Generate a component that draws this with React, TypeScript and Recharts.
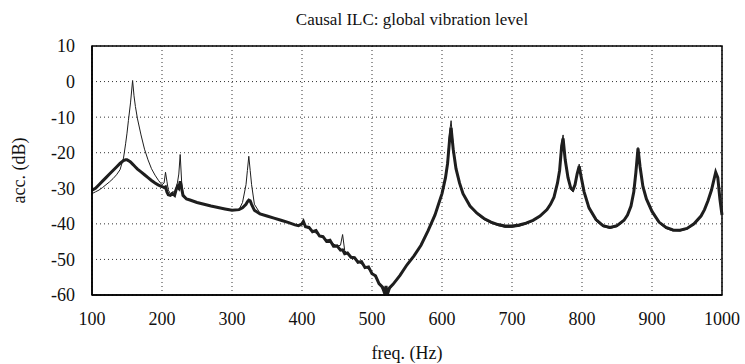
import React from "react";
import { LineChart, Line, XAxis, YAxis, CartesianGrid, ReferenceArea, Label } from "recharts";

const freq = [100,105,110,115,120,125,130,135,140,145,148,150,152,155,158,160,162,165,170,175,180,185,190,195,200,203,205,207,209,212,215,218,220,222,224,226,228,230,235,240,250,260,270,280,290,300,310,315,320,322,324,326,328,332,340,350,360,370,380,390,395,400,402,405,410,415,420,425,430,435,440,445,450,455,458,461,465,470,475,480,485,490,495,500,505,510,515,518,520,522,525,530,540,550,560,570,580,590,595,600,605,608,611,613,616,620,625,630,640,650,660,670,680,690,700,710,720,730,740,750,755,760,765,768,771,773,776,780,784,787,790,793,796,799,803,810,820,830,840,850,860,865,870,874,877,880,883,887,892,900,910,920,930,940,950,960,970,975,980,985,988,991,994,997,1000];

const thickDb = [-30.5,-30,-29,-28,-27,-26,-25,-24,-23,-22.2,-22,-22,-22.2,-22.6,-23.2,-23.6,-24,-24.6,-25.4,-26.2,-27,-27.8,-28.5,-29.1,-29.5,-29.8,-29.6,-31,-31.8,-32,-31.5,-32,-30.5,-29.5,-30,-28,-30,-32,-33,-33.3,-34,-34.5,-35,-35.4,-35.8,-36.2,-36,-35.5,-34.5,-33.8,-33.3,-33.5,-34.5,-36.2,-37.2,-37.8,-38.4,-39,-39.6,-40.3,-40.5,-40,-39.3,-40.8,-41,-42.2,-41.9,-43.4,-43.6,-44.9,-44.6,-46.3,-46.2,-47.4,-47.3,-48.4,-48.2,-49.4,-49.5,-50.8,-50.6,-52.3,-52.1,-54,-54.6,-56.8,-57.8,-59.5,-57.5,-59.8,-58,-57,-54.5,-51.5,-49,-46,-42,-37.5,-34.5,-31.5,-27,-23,-16,-13,-19,-24.5,-28.5,-31.5,-35,-37,-38.5,-39.5,-40.2,-40.6,-40.6,-40.3,-39.8,-39,-37.8,-36,-34.5,-32.5,-28.5,-25,-18,-16,-22,-27,-30,-30.5,-29,-26,-23.8,-27,-31,-35.5,-38.8,-40.5,-41,-40.5,-39,-37.5,-35,-31,-25.5,-18.8,-24,-29.5,-33,-36.5,-39.5,-41,-41.7,-41.8,-41.3,-40,-37.8,-36,-33.5,-30.5,-28,-25.5,-27,-33,-37.5];

const thinDb = [-31.5,-31,-30.5,-29.8,-29,-28.2,-27.3,-26.2,-24.8,-21.5,-17.5,-14.5,-11,-6,0.3,-4,-7,-10.5,-15,-19,-22,-24.5,-26.3,-27.8,-29,-28.5,-25.5,-28,-30.5,-31.5,-31,-31,-30,-28.5,-26,-20.5,-28,-31.5,-33,-33.3,-34,-34.5,-35,-35.4,-35.8,-36.2,-36,-34,-29,-25,-21,-25,-29,-34.5,-37,-37.8,-38.4,-39,-39.6,-40.3,-40.5,-40.2,-39.8,-40.8,-41.4,-42,-42.6,-43.2,-43.8,-44.4,-45,-45.6,-46.3,-46,-43,-47.5,-48.5,-49.2,-49.9,-50.6,-51.3,-52,-52.8,-53.8,-55,-56.5,-58.5,-59.5,-58.5,-59.5,-58.5,-57,-54.5,-51.5,-49,-46,-42,-37.5,-34.5,-31.5,-27,-22,-14,-11,-18,-24.5,-28.5,-31.5,-35.2,-37.3,-38.8,-39.8,-40.5,-41,-41,-40.7,-40.1,-39.2,-38,-36,-34.5,-32.5,-28.5,-24.5,-17,-15,-21.5,-27,-30.3,-31,-29.2,-26,-23.2,-27,-31.2,-35.8,-39.2,-40.8,-41.3,-40.8,-39.2,-37.7,-35.2,-31,-25.5,-18.5,-24,-29.7,-33.3,-36.8,-39.8,-41.3,-42,-42,-41.5,-40.2,-38,-36.2,-33.7,-30.6,-28,-25.4,-27,-33,-37.5];

const xTicks = [100,200,300,400,500,600,700,800,900,1000];
const yTicks = [-60,-50,-40,-30,-20,-10,0,10];

const titleText = "Causal ILC: global vibration level";
const xLabelText = "freq. (Hz)";
const yLabelText = "acc. (dB)";

const data = freq.map((f, i) => ({ f, thin: thinDb[i], thick: thickDb[i] }));

const FONT = '"Liberation Serif", "Times New Roman", serif';

export default function App() {
  return (
    <div style={{ position: "absolute", left: 0, top: 0, width: 745, height: 364, background: "#fff", fontFamily: FONT }}>
      <div style={{ position: "absolute", left: 92, width: 640, top: 10, textAlign: "center", fontSize: 17, color: "#111", fontFamily: FONT }}>
        {titleText}
      </div>
      <LineChart width={745} height={364} data={data} margin={{ top: 46, right: 23, left: 0, bottom: 0 }}>
        <CartesianGrid stroke="#333" strokeDasharray="1 3" strokeWidth={1} />
        <XAxis
          dataKey="f"
          type="number"
          domain={[100, 1000]}
          ticks={xTicks}
          height={69}
          tickLine={false}
          tickSize={0}
          tickMargin={17}
          axisLine={{ stroke: "#000", strokeWidth: 1.5 }}
          tick={{ fill: "#111", fontSize: 18, fontFamily: FONT }}
          interval={0}
        >
          <Label
            content={({ viewBox }: any) => (
              <text x={viewBox.x + viewBox.width / 2} y={359} textAnchor="middle" fontSize={18} fontFamily={FONT} fill="#111">
                {xLabelText}
              </text>
            )}
          />
        </XAxis>
        <YAxis
          type="number"
          domain={[-60, 10]}
          ticks={yTicks}
          width={92}
          tickLine={false}
          tickSize={0}
          tickMargin={17}
          axisLine={{ stroke: "#000", strokeWidth: 1.5 }}
          tick={{ fill: "#111", fontSize: 18, fontFamily: FONT }}
          interval={0}
          allowDataOverflow
        >
          <Label
            content={({ viewBox }: any) => {
              const cx = 21;
              const cy = viewBox.y + viewBox.height / 2;
              return (
                <text x={cx} y={cy} transform={`rotate(-90, ${cx}, ${cy})`} textAnchor="middle" dominantBaseline="middle" fontSize={18} fontFamily={FONT} fill="#111">
                  {yLabelText}
                </text>
              );
            }}
          />
        </YAxis>
        <ReferenceArea x1={100} x2={1000} y1={-60} y2={10} fill="none" stroke="#000" strokeWidth={1.5} />
        <Line type="linear" dataKey="thick" stroke="#1e1e1e" strokeWidth={3} dot={false} isAnimationActive={false} />
        <Line type="linear" dataKey="thin" stroke="#1e1e1e" strokeWidth={1} dot={false} isAnimationActive={false} />
      </LineChart>
    </div>
  );
}
